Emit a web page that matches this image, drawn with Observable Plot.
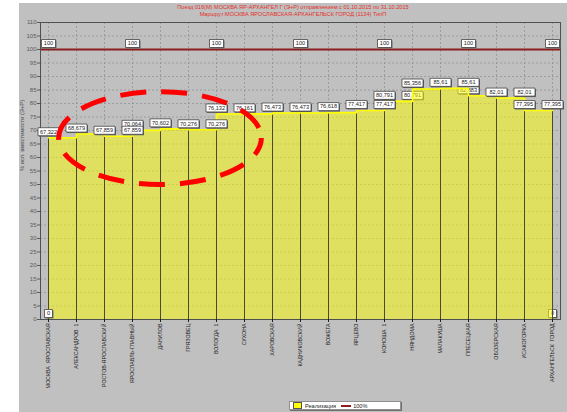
<!DOCTYPE html>
<html><head><meta charset="utf-8">
<script src="https://cdn.jsdelivr.net/npm/d3@7"></script>
<script src="https://cdn.jsdelivr.net/npm/@observablehq/plot@0.6"></script>
<style>
body{margin:0;background:#fff;font-family:"Liberation Sans",Arial,sans-serif;}
#wrap{position:relative;margin-left:19px;margin-top:3px;width:548px;height:409px;background:#c0c0c0;overflow:hidden;}
#title{height:17px;text-align:center;color:#e4302a;font-size:5.6px;line-height:7px;padding-top:1px;box-sizing:border-box;white-space:nowrap;}
#chart svg{display:block;}
#legend{position:absolute;left:270px;top:398px;width:112px;height:9px;background:#fff;border:1px solid #909090;box-shadow:1px 1px 0 #707070;font-size:5.6px;color:#222;display:flex;align-items:center;box-sizing:border-box;}
#legend .sw{display:inline-block;width:7px;height:5px;background:#ffff00;border:1px solid #555;margin:0 3px 0 3px;}
#legend .ln{display:inline-block;width:10px;height:2px;background:#8b1c1c;margin:0 2px 0 5px;}
</style></head>
<body>
<div id="wrap">
  <div id="title">Поезд 016(М) МОСКВА ЯР-АРХАНГЕЛ Г (Э+Р) отправлением с 01.10.2015 по 31.10.2015<br>Маршрут:МОСКВА ЯРОСЛАВСКАЯ-АРХАНГЕЛЬСК ГОРОД (1134) ТипП</div>
  <div id="chart"></div>
  <div id="legend"><span class="sw"></span>Реализация<span class="ln"></span>100%</div>
</div>
<script>
const stations = ["МОСКВА  ЯРОСЛАВСКАЯ","АЛЕКСАНДРОВ  1","РОСТОВ-ЯРОСЛАВСКИЙ","ЯРОСЛАВЛЬ-ГЛАВНЫЙ","ДАНИЛОВ","ГРЯЗОВЕЦ","ВОЛОГДА  1","СУХОНА","ХАРОВСКАЯ","КАДНИКОВСКИЙ","ВОЖЕГА","ЯРЦЕВО","КОНОША  1","НЯНДОМА","МАЛАКУША","ПЛЕСЕЦКАЯ","ОБОЗЕРСКАЯ","ИСАКОГОРКА","АРХАНГЕЛЬСК  ГОРОД"];
const values = [67.322,68.679,67.859,70.064,70.602,70.276,76.132,76.161,76.473,76.473,76.618,77.417,80.791,85.356,85.61,82.883,82.01,77.395,77.395];
const limitValue = 100;
const limitLabelStations = ["МОСКВА  ЯРОСЛАВСКАЯ","ЯРОСЛАВЛЬ-ГЛАВНЫЙ","ВОЛОГДА  1","КАДНИКОВСКИЙ","КОНОША  1","ПЛЕСЕЦКАЯ","АРХАНГЕЛЬСК  ГОРОД"];
const valueLabels = [
  ["МОСКВА  ЯРОСЛАВСКАЯ",67.322],["МОСКВА  ЯРОСЛАВСКАЯ",0],
  ["АЛЕКСАНДРОВ  1",68.679],
  ["РОСТОВ-ЯРОСЛАВСКИЙ",67.859],
  ["ЯРОСЛАВЛЬ-ГЛАВНЫЙ",70.064],["ЯРОСЛАВЛЬ-ГЛАВНЫЙ",67.859],
  ["ДАНИЛОВ",70.602],
  ["ГРЯЗОВЕЦ",70.276],
  ["ВОЛОГДА  1",70.276],["ВОЛОГДА  1",76.132],
  ["СУХОНА",76.161],
  ["ХАРОВСКАЯ",76.473],
  ["КАДНИКОВСКИЙ",76.473],
  ["ВОЖЕГА",76.618],
  ["ЯРЦЕВО",77.417],
  ["КОНОША  1",77.417],["КОНОША  1",80.791],
  ["НЯНДОМА",85.356],
  ["МАЛАКУША",85.61],
  ["ПЛЕСЕЦКАЯ",85.61],
  ["ОБОЗЕРСКАЯ",82.01],
  ["ИСАКОГОРКА",82.01],["ИСАКОГОРКА",77.395],
  ["АРХАНГЕЛЬСК  ГОРОД",77.395]
];
const coveredLabels = [["НЯНДОМА",80.791],["ПЛЕСЕЦКАЯ",82.883],["АРХАНГЕЛЬСК  ГОРОД",0]];
const yTicks = d3.range(0, 111, 5);
const yLabel = "% исп. вместимости (Э+Р)";
const highlight = {station: "ДАНИЛОВ", value: 67, halfWidthSteps: 3.62, halfHeightValue: 17.2};

const rows = stations.map((s, i) => ({station: s, value: values[i]}));
const limitRows = limitLabelStations.map(s => [s, limitValue]);
const fmt = v => String(v).replace(".", ",");
const boxHalf = t => t.length >= 4 ? 10.5 : t.length === 3 ? 7 : 4;
const boxSymbol = {draw(ctx, size) { const w = Math.sqrt(size / Math.PI); ctx.rect(-w, -4, 2 * w, 8); }};

function labelMarks(data) {
  const base = {x: d => d[0], y: d => d[1], r: d => boxHalf(fmt(d[1])), symbol: boxSymbol};
  return [
    Plot.dot(data, {...base, fill: "#6a6a6a", stroke: null, dx: 1, dy: -5}),
    Plot.dot(data, {...base, fill: "#ffffff", stroke: "#303030", strokeWidth: 0.7, dy: -6}),
    Plot.text(data, {x: d => d[0], y: d => d[1], text: d => fmt(d[1]), dy: -6, fontSize: 5.6, fill: "#1a1a1a"})
  ];
}

function ellipseMark(index, scales) {
  const cx = scales.x(highlight.station);
  const step = scales.x(stations[1]) - scales.x(stations[0]);
  const cy = scales.y(highlight.value);
  const ry = scales.y(highlight.value - highlight.halfHeightValue) - cy;
  return d3.create("svg:ellipse")
    .attr("cx", cx).attr("cy", cy)
    .attr("rx", step * highlight.halfWidthSteps).attr("ry", ry)
    .attr("fill", "none").attr("stroke", "#ff0000").attr("stroke-width", 5)
    .attr("stroke-dasharray", "26,15").attr("stroke-dashoffset", 8)
    .node();
}

const chart = Plot.plot({
  width: 548, height: 375,
  marginLeft: 21, marginRight: 7, marginTop: 2, marginBottom: 76,
  style: {background: "transparent", fontFamily: "'Liberation Sans', Arial, sans-serif", overflow: "visible"},
  x: {type: "point", domain: stations, padding: 0},
  y: {domain: [0, 110]},
  r: {type: "identity"},
  marks: [
    Plot.gridY(yTicks.filter(t => t > 0), {stroke: "#8c8c8c", strokeOpacity: 1, strokeDasharray: "2,2", strokeWidth: 0.7}),
    Plot.gridX(stations, {stroke: "#8c8c8c", strokeOpacity: 1, strokeDasharray: "2,2", strokeWidth: 0.7}),
    ...labelMarks(coveredLabels),
    Plot.areaY(rows, {x: "station", y: "value", curve: "step-after", fill: "#ffff00", fillOpacity: 0.5}),
    Plot.ruleX(rows, {x: "station", y1: 0, y2: (d, i) => Math.max(d.value, i > 0 ? values[i - 1] : 0), stroke: "#4a4a30", strokeWidth: 1}),
    Plot.lineY(rows, {x: "station", y: "value", curve: "step-after", stroke: "#ffff00", strokeWidth: 1.6}),
    Plot.ruleY([limitValue], {stroke: "#8b1c1c", strokeWidth: 2}),
    Plot.frame({stroke: "#505050", strokeWidth: 1}),
    Plot.axisY({ticks: yTicks, tickSize: 3, tickPadding: 1, fontSize: 6, color: "#5a5a5a", label: null}),
    Plot.axisX({tickRotate: -90, tickSize: 3, tickPadding: 1, fontSize: 5.3, color: "#1e1e1e", label: null}),
    Plot.text([yLabel], {frameAnchor: "left", rotate: -90, dx: -18, fontSize: 5.8, fill: "#4a4a4a"}),
    ...labelMarks(limitRows),
    ...labelMarks(valueLabels),
    ellipseMark
  ]
});
document.getElementById("chart").append(chart);
</script>
</body></html>
